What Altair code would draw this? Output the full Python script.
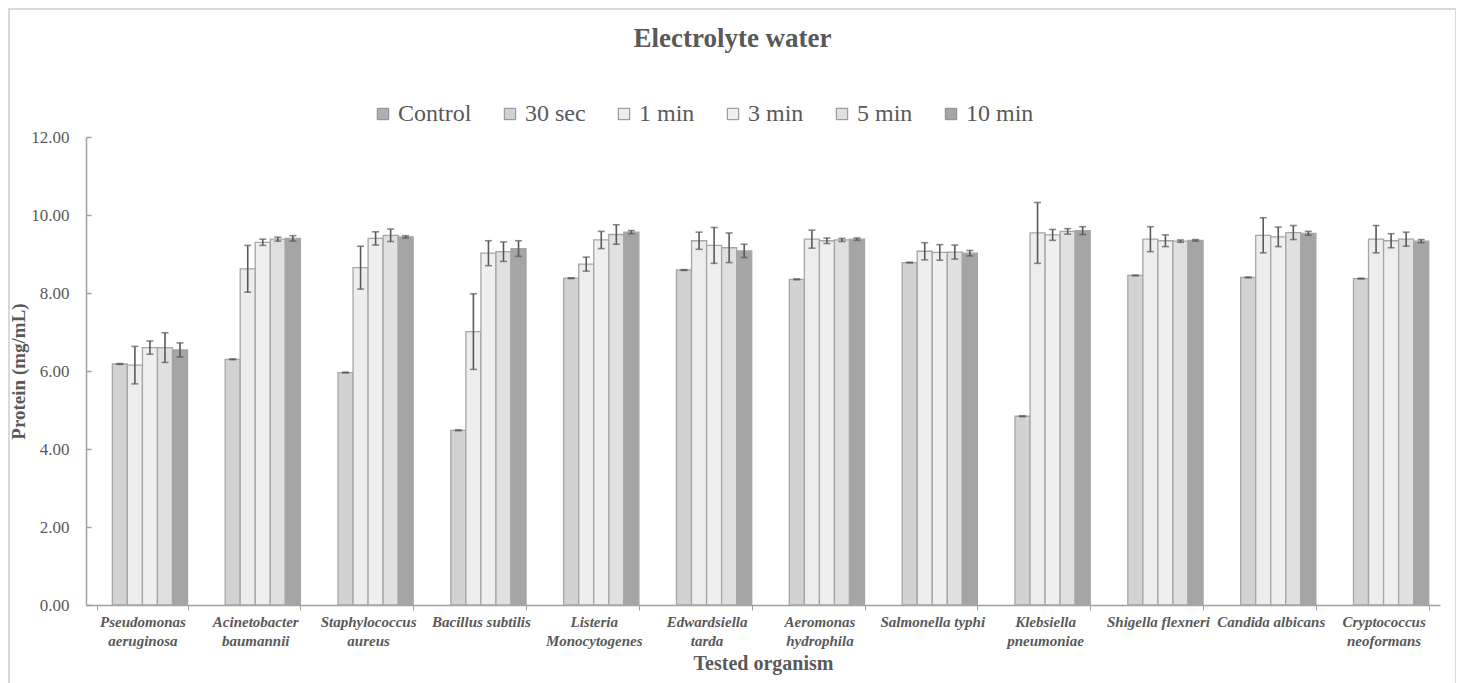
import altair as alt
import pandas as pd

organisms = [
    "Pseudomonas\naeruginosa", "Acinetobacter\nbaumannii", "Staphylococcus\naureus",
    "Bacillus subtilis", "Listeria\nMonocytogenes", "Edwardsiella\ntarda",
    "Aeromonas\nhydrophila", "Salmonella typhi", "Klebsiella\npneumoniae",
    "Shigella flexneri", "Candida albicans", "Cryptococcus\nneoformans",
]
series = ["Control", "30 sec", "1 min", "3 min", "5 min", "10 min"]

# visible bars (Control has no drawn bar in the reference)
val_30s = [6.18, 6.30, 5.96, 4.48, 8.38, 8.59, 8.35, 8.78, 4.84, 8.45, 8.40, 8.37]
val_1m = [6.15, 8.62, 8.65, 7.01, 8.74, 9.34, 9.38, 9.07, 9.54, 9.38, 9.48, 9.38]
val_3m = [6.60, 9.30, 9.40, 9.02, 9.36, 9.22, 9.34, 9.04, 9.49, 9.34, 9.44, 9.34]
val_5m = [6.60, 9.38, 9.48, 9.06, 9.50, 9.16, 9.36, 9.05, 9.58, 9.33, 9.55, 9.38]
val_10m = [6.54, 9.40, 9.44, 9.14, 9.56, 9.08, 9.38, 9.02, 9.60, 9.35, 9.53, 9.33]

err_30s = [0.01] * 12
err_1m = [0.48, 0.60, 0.55, 0.97, 0.18, 0.22, 0.23, 0.22, 0.78, 0.32, 0.45, 0.35]
err_3m = [0.17, 0.08, 0.17, 0.32, 0.22, 0.46, 0.07, 0.20, 0.14, 0.15, 0.25, 0.18]
err_5m = [0.38, 0.05, 0.16, 0.25, 0.25, 0.38, 0.04, 0.18, 0.07, 0.03, 0.18, 0.18]
err_10m = [0.18, 0.07, 0.03, 0.20, 0.04, 0.17, 0.03, 0.07, 0.10, 0.02, 0.05, 0.04]

fills = ["#b0b0b0", "#d2d2d2", "#ededed", "#efefef", "#e0e0e0", "#a5a5a5"]

rows = []
for s, vals, errs in [("30 sec", val_30s, err_30s), ("1 min", val_1m, err_1m),
                      ("3 min", val_3m, err_3m), ("5 min", val_5m, err_5m),
                      ("10 min", val_10m, err_10m)]:
    for o, v, e in zip(organisms, vals, errs):
        rows.append({"organism": o, "series": s, "value": v, "lo": v - e, "hi": v + e})
df = pd.DataFrame(rows)

FONT = "Liberation Serif, DejaVu Serif, serif"
GREY = "#595959"
AXIS_GREY = "#a0a0a0"
W, H = 1354, 468

x_enc = alt.X(
    "organism:N",
    scale=alt.Scale(domain=organisms, paddingInner=0.2, paddingOuter=0.1),
    axis=alt.Axis(
        title="Tested organism", labelExpr="split(datum.label, '\\n')", labelAngle=0,
        tickBand="extent", labelFont=FONT, labelFontSize=15, labelFontStyle="italic",
        labelFontWeight="bold", labelColor=GREY, labelPadding=4, labelLineHeight=19,
        titleFont=FONT, titleFontSize=20, titleFontWeight="bold", titleColor=GREY,
        titlePadding=5, domainColor=AXIS_GREY, tickColor=AXIS_GREY, tickSize=5,
        domainWidth=1.5,
    ),
)
xo_enc = alt.XOffset("series:N", scale=alt.Scale(domain=series, paddingInner=0, paddingOuter=0))
y_scale = alt.Scale(domain=[0, 12])
y_ticks = [0, 2, 4, 6, 8, 10, 12]

base = alt.Chart(df)
bars = base.mark_bar(stroke="#a6a6a6", strokeWidth=1.3).encode(
    x=x_enc,
    xOffset=xo_enc,
    y=alt.Y(
        "value:Q", scale=y_scale,
        axis=alt.Axis(
            title="Protein (mg/mL)", values=y_ticks, format=".2f", ticks=False,
            grid=False, labelFont=FONT, labelFontSize=17, labelColor=GREY, labelPadding=17,
            titleFont=FONT, titleFontSize=19, titleFontWeight="bold", titleColor=GREY,
            titlePadding=2, domainColor=AXIS_GREY, domainWidth=1.5,
        ),
    ),
    fill=alt.Fill(
        "series:N", scale=alt.Scale(domain=series, range=fills), title=None,
        legend=alt.Legend(
            orient="none", legendX=285, legendY=-35, direction="horizontal",
            symbolType="square", symbolSize=130, symbolStrokeColor="#8a8a8a",
            symbolStrokeWidth=1, labelFont=FONT, labelFontSize=24, labelColor=GREY,
            columnPadding=26, labelOffset=3,
        ),
    ),
)
rules = base.mark_rule(color=GREY, strokeWidth=1.6).encode(
    x=x_enc, xOffset=xo_enc, y=alt.Y("lo:Q", scale=y_scale, axis=None), y2="hi:Q"
)
cap_hi = base.mark_tick(color=GREY, thickness=1.6, size=7).encode(
    x=x_enc, xOffset=xo_enc, y=alt.Y("hi:Q", scale=y_scale, axis=None)
)
# inward-pointing y ticks (right-oriented axis pulled onto the left edge)
cap_lo = base.mark_tick(color=GREY, thickness=1.6, size=7).encode(
    x=x_enc, xOffset=xo_enc,
    y=alt.Y(
        "lo:Q", scale=y_scale,
        axis=alt.Axis(
            orient="right", offset=-W, values=y_ticks, labels=False, domain=False,
            grid=False, tickSize=5, tickColor=AXIS_GREY, tickWidth=1.5, title=None,
        ),
    ),
)

border = alt.Chart(pd.DataFrame({"a": [0]})).mark_rect(
    fillOpacity=0, stroke="#d9d9d9", strokeWidth=2
).encode(x=alt.value(-77), x2=alt.value(1370), y=alt.value(-128), y2=alt.value(600))

chart = alt.layer(border, bars, rules, cap_hi, cap_lo).resolve_scale(
    y="independent"
).properties(
    width=W, height=H,
    autosize=alt.AutoSizeParams(type="none"),
    padding={"left": 78, "top": 129, "right": 16, "bottom": 80},
    title=alt.TitleParams(
        "Electrolyte water", font=FONT, fontSize=27, fontWeight="bold", color=GREY,
        anchor="middle", frame="bounds", offset=-45,
    ),
).configure_view(stroke=None)

chart.save("out.html", embed_options={"renderer": "svg", "actions": False})
